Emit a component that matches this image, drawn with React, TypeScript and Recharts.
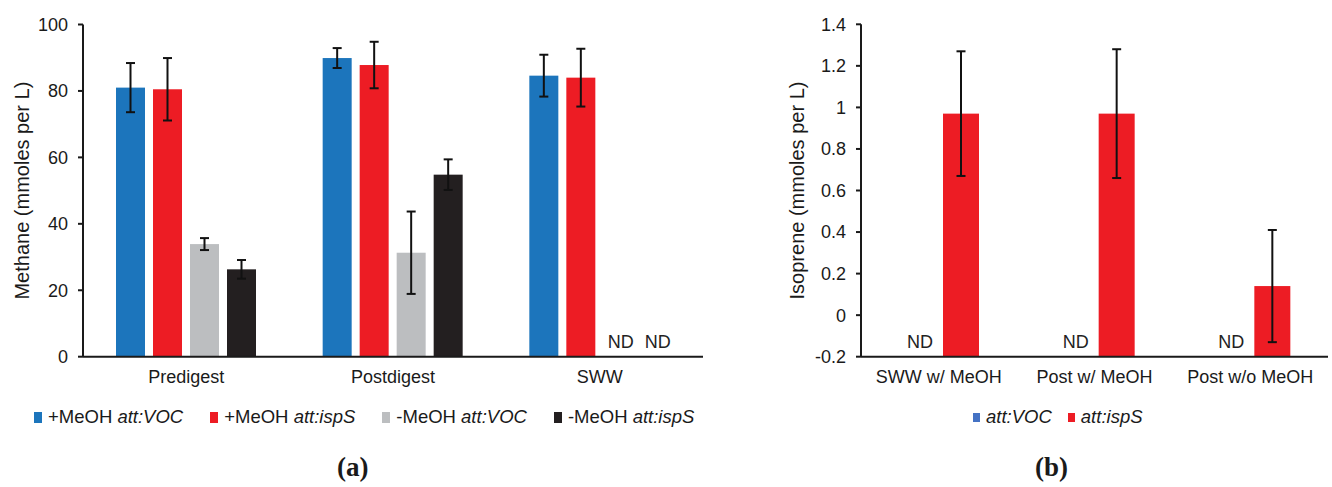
import React from 'react';
import { BarChart, Bar, XAxis, YAxis, ErrorBar } from 'recharts';

// panel (a) - methane
const methaneCats = ['Predigest', 'Postdigest', 'SWW'];
const plusVoc = [81.0, 89.9, 84.6];
const plusVocErr = [7.4, 3.0, 6.3];
const plusIsp = [80.5, 87.8, 84.0];
const plusIspErr = [9.4, 7.0, 8.7];
const minusVoc = [33.9, 31.3, null];
const minusVocErr = [1.8, 12.4, null];
const minusIsp = [26.3, 54.8, null];
const minusIspErr = [2.8, 4.6, null];
const methaneTicks = [0, 20, 40, 60, 80, 100];
const methaneLegend = [
  ['+MeOH ', 'att:VOC'],
  ['+MeOH ', 'att:ispS'],
  ['-MeOH ', 'att:VOC'],
  ['-MeOH ', 'att:ispS'],
];

// panel (b) - isoprene
const isopreneCats = ['SWW w/ MeOH', 'Post w/ MeOH', 'Post w/o MeOH'];
const isoVoc = [null, null, null];
const isoIsp = [0.97, 0.97, 0.14];
const isoIspErr = [0.30, 0.31, 0.27];
const isopreneTicks = [-0.2, 0, 0.2, 0.4, 0.6, 0.8, 1, 1.2, 1.4];
const isopreneLegend = ['att:VOC', 'att:ispS'];

const BLUE = '#1c75bc';
const RED = '#ed1c24';
const GRAY = '#bcbec0';
const BLACK = '#231f20';
const LEGEND_BLUE = '#4472c4';
const AXIS = '#1a1a1a';
const FONT = '"Liberation Sans", Arial, sans-serif';

const methaneData = methaneCats.map((name, i) => ({
  name,
  s0: plusVoc[i] ?? 0, e0: plusVocErr[i], nd0: plusVoc[i] == null,
  s1: plusIsp[i] ?? 0, e1: plusIspErr[i], nd1: plusIsp[i] == null,
  s2: minusVoc[i] ?? 0, e2: minusVocErr[i], nd2: minusVoc[i] == null,
  s3: minusIsp[i] ?? 0, e3: minusIspErr[i], nd3: minusIsp[i] == null,
}));

const isopreneData = isopreneCats.map((name, i) => ({
  name,
  s0: isoVoc[i] ?? 0, e0: null, nd0: isoVoc[i] == null,
  s1: isoIsp[i] ?? 0, e1: isoIspErr[i], nd1: isoIsp[i] == null,
}));

// bars run down to the floor of the plot (Excel draws from the axis crossing)
const makeShape = (ndKey: string) => (props: any) => {
  const { x, y, width, height, fill, payload, background } = props;
  const floor = background ? background.y + background.height : y + height;
  if (payload[ndKey]) {
    return (
      <text x={x + width / 2 + 3} y={floor - 9} textAnchor="middle" fontSize={18} fill="#222">
        ND
      </text>
    );
  }
  return <rect x={x} y={y} width={width} height={Math.max(0, floor - y)} fill={fill} />;
};

const axisTitle = (text: string, cx: number) => (props: any) => {
  const vb = props.viewBox;
  const cy = vb.y + vb.height / 2;
  return (
    <text
      x={cx}
      y={cy}
      transform={`rotate(-90 ${cx} ${cy})`}
      textAnchor="middle"
      dominantBaseline="central"
      fontSize={20}
      fill={AXIS}
    >
      {text}
    </text>
  );
};

const fmtIso = (v: number) => String(Number(v.toFixed(1)));

const Swatch = ({ color, w, h }: { color: string; w: number; h: number }) => (
  <span style={{ display: 'inline-block', width: w, height: h, background: color, marginRight: 6 }} />
);

export default function App() {
  const seriesColors = [BLUE, RED, GRAY, BLACK];
  return (
    <div style={{ position: 'absolute', left: 0, top: 0, width: 1332, height: 487, background: '#fff', fontFamily: FONT, color: AXIS }}>
      <div style={{ position: 'absolute', left: 0, top: 0 }}>
        <BarChart
          width={720}
          height={487}
          data={methaneData}
          margin={{ top: 24.5, right: 17, bottom: 90.3, left: 0 }}
          barSize={29}
          barGap={8}
        >
          <XAxis
            dataKey="name"
            height={40}
            tickLine={false}
            tickSize={0}
            tickMargin={14}
            axisLine={{ stroke: AXIS, strokeWidth: 2 }}
            tick={{ fill: AXIS, fontSize: 18 }}
          />
          <YAxis
            width={83}
            domain={[0, 100]}
            ticks={methaneTicks}
            tickSize={5}
            tickMargin={10}
            axisLine={{ stroke: AXIS, strokeWidth: 2 }}
            tickLine={{ stroke: AXIS, strokeWidth: 2 }}
            tick={{ fill: AXIS, fontSize: 18 }}
            label={{ content: axisTitle('Methane (mmoles per L)', 22) }}
          />
          {[0, 1, 2, 3].map((k) => (
            <Bar
              key={k}
              dataKey={`s${k}`}
              fill={seriesColors[k]}
              isAnimationActive={false}
              shape={makeShape(`nd${k}`)}
            >
              <ErrorBar dataKey={`e${k}`} width={4.5} stroke="#111" strokeWidth={2} />
            </Bar>
          ))}
        </BarChart>
      </div>

      <div style={{ position: 'absolute', left: 720, top: 0 }}>
        <BarChart
          width={612}
          height={487}
          data={isopreneData}
          margin={{ top: 24.3, right: 4, bottom: 90.3, left: 0 }}
          barSize={36}
          barGap={8}
        >
          <XAxis
            dataKey="name"
            height={40}
            tickLine={false}
            tickSize={0}
            tickMargin={14}
            axisLine={{ stroke: AXIS, strokeWidth: 2 }}
            tick={{ fill: AXIS, fontSize: 18 }}
          />
          <YAxis
            width={141}
            domain={[-0.2, 1.4]}
            ticks={isopreneTicks}
            tickFormatter={fmtIso}
            tickSize={5}
            tickMargin={10}
            axisLine={{ stroke: AXIS, strokeWidth: 2 }}
            tickLine={{ stroke: AXIS, strokeWidth: 2 }}
            tick={{ fill: AXIS, fontSize: 18 }}
            label={{ content: axisTitle('Isoprene (mmoles per L)', 77) }}
          />
          <Bar dataKey="s0" fill={BLUE} isAnimationActive={false} shape={makeShape('nd0')} />
          <Bar dataKey="s1" fill={RED} isAnimationActive={false} shape={makeShape('nd1')}>
            <ErrorBar dataKey="e1" width={4.5} stroke="#111" strokeWidth={2} />
          </Bar>
        </BarChart>
      </div>

      {/* legends */}
      <div style={{ position: 'absolute', left: 34, top: 407, display: 'flex', alignItems: 'center', fontSize: 18.5, lineHeight: '20px', whiteSpace: 'pre' }}>
        {methaneLegend.map(([pre, gene], i) => (
          <span key={i} style={{ display: 'flex', alignItems: 'center', marginRight: 27 }}>
            <Swatch color={seriesColors[i]} w={8} h={11} />
            <span>{pre}<i>{gene}</i></span>
          </span>
        ))}
      </div>
      <div style={{ position: 'absolute', left: 973, top: 407, display: 'flex', alignItems: 'center', fontSize: 18.5, lineHeight: '20px' }}>
        {isopreneLegend.map((gene, i) => (
          <span key={i} style={{ display: 'flex', alignItems: 'center', marginRight: 16 }}>
            <Swatch color={i === 0 ? LEGEND_BLUE : RED} w={7} h={9} />
            <i>{gene}</i>
          </span>
        ))}
      </div>

      <div style={{ position: 'absolute', left: 337, top: 452, fontFamily: '"Liberation Serif", serif', fontWeight: 'bold', fontSize: 27 }}>(a)</div>
      <div style={{ position: 'absolute', left: 1035, top: 452, fontFamily: '"Liberation Serif", serif', fontWeight: 'bold', fontSize: 27 }}>(b)</div>
    </div>
  );
}
